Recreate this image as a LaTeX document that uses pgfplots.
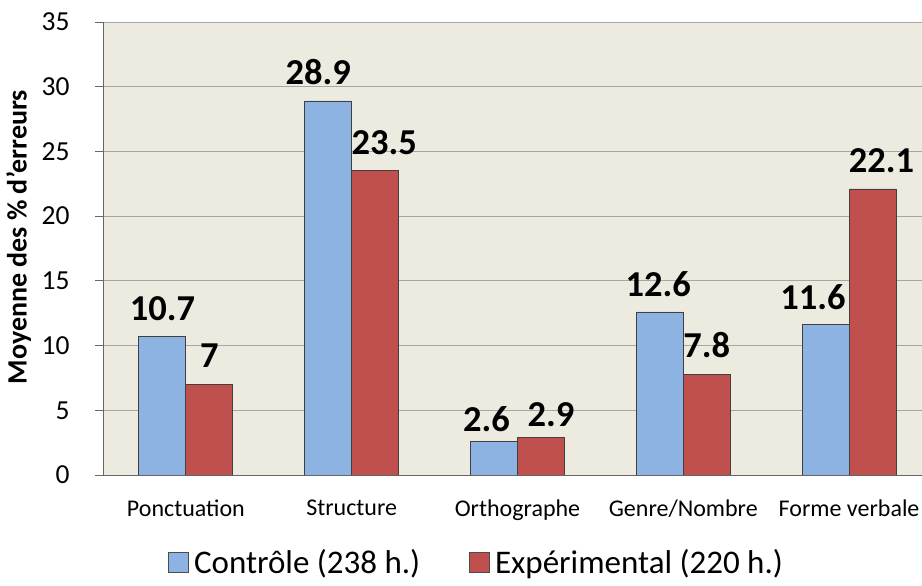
\documentclass[border=0pt]{standalone}
\usepackage{pgfplots}
\pgfplotsset{compat=1.18}
\usepackage{pgfplotstable}
\usepackage{fontspec}
\setmainfont{Carlito}
\definecolor{bgc}{HTML}{EDEBE0}
\definecolor{blueb}{HTML}{8DB3E2}
\definecolor{redb}{HTML}{C0504D}
\definecolor{gridc}{HTML}{A6A6A6}

\pgfplotstableread{
x y dx dy
0 10.7 0 15
1 28.9 -10 16
2 2.6 -7.5 9
3 12.6 -1.5 15
4 11.6 -12.5 15
}\blueT
\pgfplotstableread{
x y dx dy
0 7 0 16
1 23.5 9 16
2 2.9 10 10
3 7.8 0 16
4 22.1 9 16
}\redT

\begin{document}
\begin{tikzpicture}
\path[use as bounding box] (-103pt,-111pt) rectangle (819pt,475pt);
\begin{axis}[
  at={(0pt,0pt)}, anchor=south west,
  scale only axis, width=819pt, height=453pt,
  xmin=-0.5, xmax=4.44, ymin=0, ymax=35,
  ybar=0pt, bar width=47pt,
  axis background/.style={fill=bgc},
  axis lines*=left,
  axis line style={draw=gray!80!black, line width=0.8pt},
  ymajorgrids, grid style={gridc, line width=0.8pt},
  ytick={0,5,...,35},
  xtick={0,...,4},
  xticklabels={Ponctuation, Structure, Orthographe, Genre/Nombre, Forme verbale},
  xtick style={draw=none},
  ytick style={draw=gray!80!black, line width=0.8pt},
  tick align=outside, major tick length=8pt,
  x tick label style={font=\fontsize{24}{24}\selectfont, yshift=-13pt},
  y tick label style={font=\fontsize{27.5}{27.5}\selectfont, xshift=-22pt},
  /pgf/number format/assume math mode=true,
  ylabel={\textbf{Moyenne des \% d'erreurs}},
  ylabel style={at={(axis description cs:-0.103,0.525)}, anchor=center, font=\fontsize{28}{28}\selectfont},
  legend style={at={(axis description cs:0.458,-0.192)}, anchor=center, draw=none, fill=none,
    legend columns=2, font=\fontsize{33}{33}\selectfont,
    nodes={inner xsep=5pt},
    /tikz/every even column/.append style={column sep=44pt}},
  legend image code/.code={\draw[#1, draw=black!70] (0pt,-10pt) rectangle (20pt,10pt);},
  nodes near coords,
  every node near coord/.append style={anchor=south, inner sep=0pt, font=\bfseries\fontsize{36.5}{36.5}\selectfont, text=black},
]
\addplot[fill=blueb, draw=black!75, line width=0.8pt,
  visualization depends on={\thisrow{dx} \as \dx},
  visualization depends on={\thisrow{dy} \as \dy},
  every node near coord/.append style={xshift=\dx pt, yshift=\dy pt}]
  table[x=x,y=y]{\blueT};
\addplot[fill=redb, draw=black!75, line width=0.8pt,
  visualization depends on={\thisrow{dx} \as \dx},
  visualization depends on={\thisrow{dy} \as \dy},
  every node near coord/.append style={xshift=\dx pt, yshift=\dy pt}]
  table[x=x,y=y]{\redT};
\legend{Contrôle (238 h.), Expérimental (220 h.)}
\end{axis}
\end{tikzpicture}
\end{document}
